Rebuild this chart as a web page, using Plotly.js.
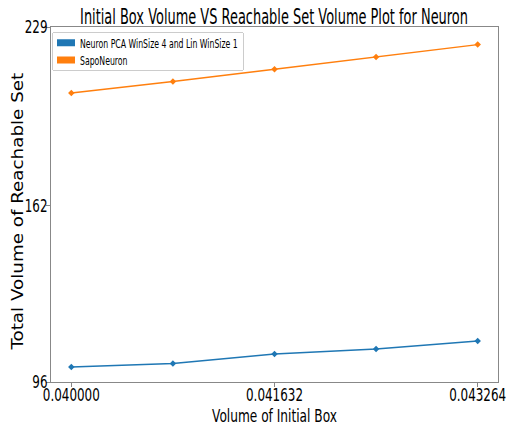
<!DOCTYPE html>
<html>
<head>
<meta charset="utf-8">
<script src="https://cdn.plot.ly/plotly-3.0.1.min.js"></script>
<style>html,body{margin:0;padding:0;background:#fff;}#chart{width:507px;height:429px;}</style>
</head>
<body>
<div id="chart"></div>
<script>
// Initial box volumes and the total reachable-set volume for each method
const boxVolumes = [0.040000, 0.040816, 0.041632, 0.042448, 0.043264];
const pcaLinVolumes = [101.6, 102.9, 106.5, 108.4, 111.4];
const sapoVolumes = [204.3, 208.6, 213.2, 217.8, 222.4];
const seriesNames = ["Neuron PCA WinSize 4 and Lin WinSize 1", "SapoNeuron"];
const xTickValues = [0.040000, 0.041632, 0.043264];
const xTickLabels = ["0.040000", "0.041632", "0.043264"];
const yTickValues = [96, 162, 229];
const yTickLabels = ["96", "162", "229"];

const blue = "#1f77b4";
const orange = "#ff7f0e";
const font = "'DejaVu Sans', sans-serif";
const ASC = 0.928, DESC = 0.236;   // DejaVu Sans ascent / descent (em)

function lineTrace(y, color) {
  return {
    type: "scatter", mode: "lines+markers", x: boxVolumes, y: y,
    line: {color: color, width: 1.5},
    marker: {color: color, size: 5, symbol: "diamond"},
    showlegend: false, hoverinfo: "x+y"
  };
}
// Legend entries drawn as filled patches
function legendPatch(name, color) {
  return {
    type: "scatter", mode: "none", x: [null], y: [null], name: name,
    fill: "toself", fillcolor: color, showlegend: true
  };
}

const data = [
  lineTrace(pcaLinVolumes, blue),
  lineTrace(sapoVolumes, orange),
  legendPatch(seriesNames[0], blue),
  legendPatch(seriesNames[1], orange)
];

const xSpan = boxVolumes[boxVolumes.length - 1] - boxVolumes[0];
const layout = {
  width: 507, height: 429,
  margin: {l: 51, r: 9, t: 27, b: 47},
  paper_bgcolor: "#fff", plot_bgcolor: "#fff",
  title: {text: "Initial Box Volume VS Reachable Set Volume Plot for Neuron",
          font: {family: font, size: 21, color: "#000"},
          x: 0.5, xanchor: "center", y: 0.96, yanchor: "middle"},
  xaxis: {
    range: [boxVolumes[0] - 0.05 * xSpan, boxVolumes[boxVolumes.length - 1] + 0.05 * xSpan],
    tickmode: "array", tickvals: xTickValues, ticktext: xTickLabels,
    tickfont: {family: font, size: 18, color: "#000"},
    ticks: "outside", ticklen: 4, tickcolor: "#888", ticklabeloverflow: "allow",
    showgrid: false, zeroline: false, automargin: false,
    showline: true, linecolor: "#888", linewidth: 1, mirror: true,
    title: {text: "Volume of Initial Box", font: {family: font, size: 18, color: "#000"}}
  },
  yaxis: {
    range: [96, 229],
    tickmode: "array", tickvals: yTickValues, ticktext: yTickLabels,
    tickfont: {family: font, size: 18, color: "#000"},
    ticks: "outside", ticklen: 4, tickcolor: "#888", ticklabeloverflow: "allow",
    showgrid: false, zeroline: false, automargin: false,
    showline: true, linecolor: "#888", linewidth: 1, mirror: true,
    title: {text: "Total Volume of Reachable Set", font: {family: font, size: 15, color: "#000"}}
  },
  legend: {
    x: 0.0, y: 0.985, xanchor: "left", yanchor: "top",
    bgcolor: "rgba(255,255,255,0.8)", bordercolor: "#ccc", borderwidth: 1,
    font: {family: font, size: 12.5, color: "#000"},
    tracegroupgap: 0, itemwidth: 30
  },
  showlegend: true
};

// Horizontal squeeze of a text element about its anchor point
function squeeze(el, s) {
  const t0 = el.getAttribute("transform") || "";
  const x = parseFloat(el.getAttribute("x")) || 0;
  el.setAttribute("transform", `${t0} translate(${x},0) scale(${s},1) translate(${-x},0)`);
}
function shift(el, dx, dy) {
  const t = el.getAttribute("transform") || "";
  el.setAttribute("transform", `translate(${dx},${dy}) ${t}`);
}
// Squeeze/stretch a text to a given advance length
function fitLength(el, len) {
  const s = len / el.getComputedTextLength();
  squeeze(el, s);
  return s;
}
// Place a horizontal text by its centre x and baseline y
function placeH(el, cx, baseline, fs) {
  const r = el.getBoundingClientRect();
  shift(el, cx - (r.left + r.right) / 2, baseline - (r.top + ASC * fs));
}

function styleTexts(gd) {
  const q = s => gd.querySelector(s);
  const qa = s => Array.from(gd.querySelectorAll(s));

  const title = q(".gtitle");
  fitLength(title, 388);
  placeH(title, 274, 24, 21);

  const xt = q(".xtitle");
  fitLength(xt, 125);
  placeH(xt, 274.5, 422, 18);

  const yt = q(".ytitle");
  fitLength(yt, 277);
  const ry = yt.getBoundingClientRect();
  shift(yt, 23 - (ry.right - DESC * 15), 211.5 - (ry.top + ry.bottom) / 2);

  // tick labels share one condensing factor
  const xticks = qa(".xtick text");
  const s = 57 / xticks[0].getComputedTextLength();
  xticks.forEach(el => {
    squeeze(el, s);
    const r = el.getBoundingClientRect();
    shift(el, 0, 401.5 - (r.top + ASC * 18));
  });
  qa(".ytick text").forEach(el => {
    squeeze(el, s);
    const r = el.getBoundingClientRect();
    shift(el, 47.5 - r.right, 0);
  });

  // legend: condensed labels, matplotlib-like patches, tightened frame
  const legend = q(".legend");
  const lt = qa(".legend .legendtext");
  const sl = 158 / lt[0].getComputedTextLength();
  lt.forEach(el => squeeze(el, sl));
  qa(".legend .legendfill path").forEach(p => p.setAttribute("d", "M17,-3.5h18v7h-18z"));
  const patches = qa(".legend .legendfill path");
  // entry rows: patch centres at fixed spacing
  const rowCentres = [42.7, 60];
  qa(".legend .traces").forEach((g, i) => {
    const pr = patches[i].getBoundingClientRect();
    shift(g, 0, rowCentres[i] - (pr.top + pr.bottom) / 2);
  });
  // move legend horizontally so labels start at the frame's text column
  const lr0 = lt[0].getBoundingClientRect();
  shift(legend, 80 - lr0.left, 0);

  const bg = q(".legend rect.bg");
  const b = bg.getBoundingClientRect();
  const patchLeft = Math.min(...patches.map(p => p.getBoundingClientRect().left));
  const textRight = Math.max(...lt.map(el => el.getBoundingClientRect().right));
  const newLeft = patchLeft - 4.5;
  bg.setAttribute("x", parseFloat(bg.getAttribute("x")) + (newLeft - b.left));
  bg.setAttribute("width", textRight + 6 - newLeft);
  bg.setAttribute("y", parseFloat(bg.getAttribute("y")) + (32.5 - b.top));
  bg.setAttribute("height", 38);
  bg.setAttribute("rx", 2);
}

Plotly.newPlot("chart", data, layout, {displayModeBar: false, staticPlot: true}).then(styleTexts);
</script>
</body>
</html>
